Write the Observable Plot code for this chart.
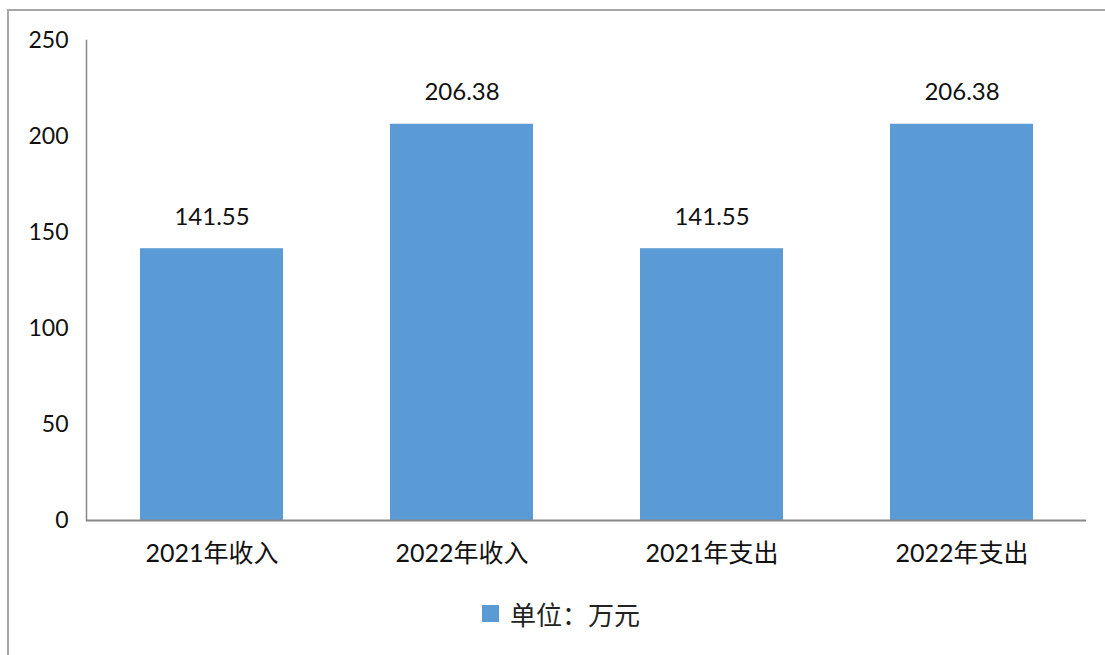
<!DOCTYPE html>
<html><head><meta charset="utf-8">
<script src="https://cdn.jsdelivr.net/npm/d3@7"></script>
<script src="https://cdn.jsdelivr.net/npm/@observablehq/plot@0.6"></script>
<style>
body{margin:0;background:#fff;width:1105px;height:655px;overflow:hidden;position:relative;font-family:Lato,"Noto Sans CJK SC",sans-serif;}
#frame{position:absolute;left:7px;top:9px;width:1120px;height:700px;border:2px solid #a6a6a6;box-sizing:border-box;}
#chart{position:absolute;left:0;top:0;}
#legend{position:absolute;left:482px;top:595px;display:flex;align-items:center;font-size:26px;color:#222;font-family:"Noto Sans CJK SC",sans-serif;}
#legend span.sw{display:inline-block;width:17px;height:17px;background:#5B9BD5;margin-right:11px;}
</style></head>
<body>
<div id="frame"></div>
<div id="chart"></div>
<div id="legend"><span class="sw"></span><span>单位：万元</span></div>
<script>
const categories = ["2021年收入","2022年收入","2021年支出","2022年支出"];
const values = [141.55, 206.38, 141.55, 206.38];
const yTicks = [0,50,100,150,200,250];
const data = categories.map((c,i)=>({cat:c, value:values[i]}));
const chart = Plot.plot({
  width:1105, height:580,
  marginLeft:86, marginRight:19, marginTop:40, marginBottom:60,
  style:{fontFamily:'Lato,"Noto Sans CJK SC",sans-serif', fontSize:"23px", color:"#111", background:"transparent"},
  x:{domain:categories, paddingInner:0.43, paddingOuter:0.215, label:null},
  y:{domain:[0,250], ticks:yTicks, label:null},
  marks:[
    Plot.barY(data,{x:"cat", y:"value", fill:"#5B9BD5"}),
    Plot.text(data,{x:"cat", y:"value", text:d=>d.value.toFixed(2), dy:-24, lineAnchor:"bottom", fontSize:24, fill:"#111"}),
    Plot.axisY({ticks:yTicks, tickSize:0, tickPadding:18, fontSize:23, label:null}),
    Plot.axisX({tickSize:0, tickPadding:24, fontSize:25, label:null}),
    Plot.frame({anchor:"left", stroke:"#888", strokeWidth:1.5}),
    Plot.ruleY([0],{stroke:"#888", strokeWidth:2})
  ]
});
document.getElementById("chart").appendChild(chart);
</script>
</body></html>
